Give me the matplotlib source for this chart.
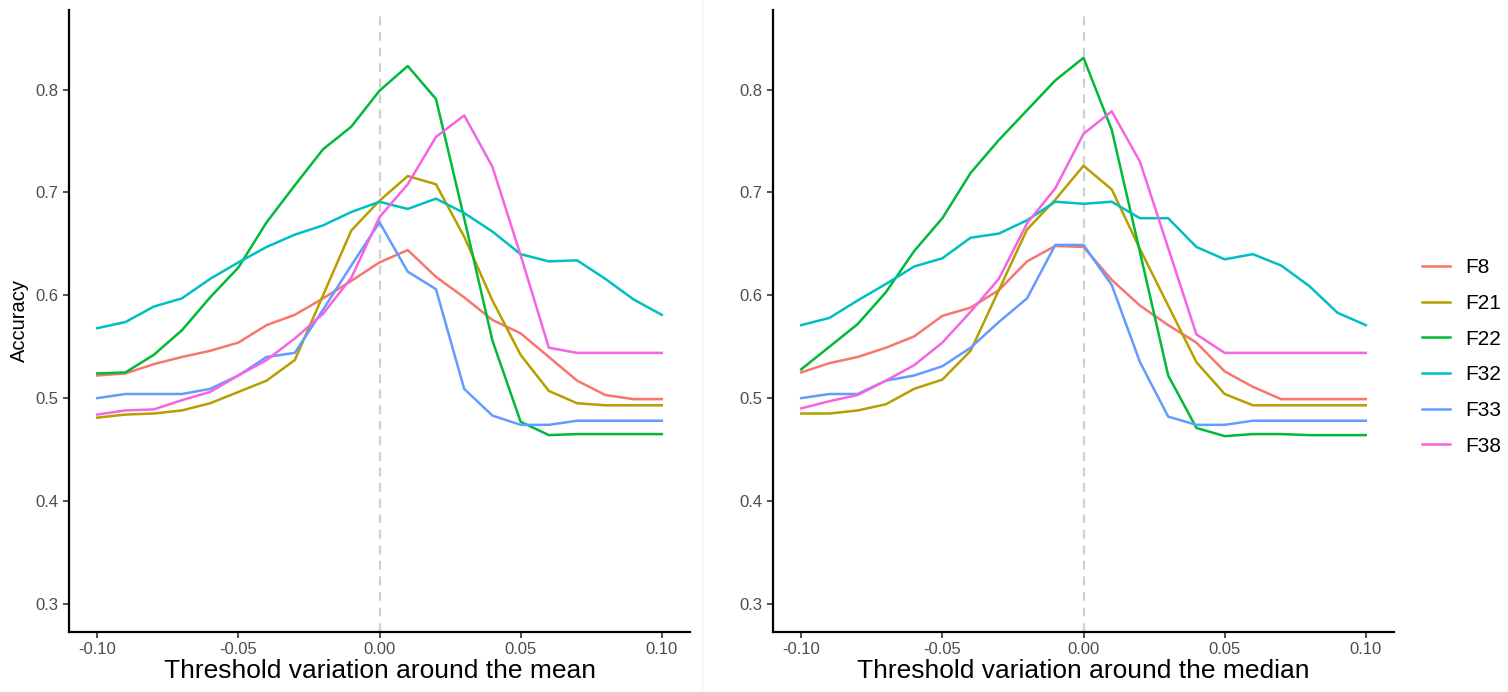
import numpy as np
import matplotlib.pyplot as plt
from matplotlib.lines import Line2D

plt.rcParams['font.family'] = ['Liberation Sans', 'DejaVu Sans']

# 阈值变化
x = np.round(np.arange(-0.10, 0.1001, 0.01), 2)

names = ["F8", "F21", "F22", "F32", "F33", "F38"]
colors = ["#F8766D", "#B79F00", "#00BA38", "#00BFC4", "#619CFF", "#F564E3"]

# 均值附近
mean_F8 = [0.522, 0.524, 0.533, 0.540, 0.546, 0.554, 0.571, 0.581, 0.597, 0.614, 0.632,
           0.644, 0.618, 0.598, 0.576, 0.563, 0.540, 0.517, 0.503, 0.499, 0.499]
mean_F21 = [0.481, 0.484, 0.485, 0.488, 0.495, 0.506, 0.517, 0.537, 0.600, 0.663, 0.692,
            0.716, 0.708, 0.657, 0.595, 0.542, 0.507, 0.495, 0.493, 0.493, 0.493]
mean_F22 = [0.524, 0.525, 0.542, 0.566, 0.598, 0.627, 0.671, 0.707, 0.742, 0.764, 0.799,
            0.823, 0.791, 0.675, 0.556, 0.477, 0.464, 0.465, 0.465, 0.465, 0.465]
mean_F32 = [0.568, 0.574, 0.589, 0.597, 0.616, 0.632, 0.647, 0.659, 0.668, 0.681, 0.691,
            0.684, 0.694, 0.680, 0.662, 0.640, 0.633, 0.634, 0.616, 0.596, 0.581]
mean_F33 = [0.500, 0.504, 0.504, 0.504, 0.509, 0.522, 0.540, 0.544, 0.586, 0.629, 0.671,
            0.623, 0.606, 0.509, 0.483, 0.474, 0.474, 0.478, 0.478, 0.478, 0.478]
mean_F38 = [0.484, 0.488, 0.489, 0.498, 0.506, 0.522, 0.537, 0.558, 0.582, 0.617, 0.676,
            0.708, 0.754, 0.775, 0.725, 0.639, 0.549, 0.544, 0.544, 0.544, 0.544]

# 中位数附近
median_F8 = [0.525, 0.534, 0.540, 0.549, 0.560, 0.580, 0.588, 0.605, 0.633, 0.648, 0.647,
             0.615, 0.590, 0.571, 0.554, 0.526, 0.511, 0.499, 0.499, 0.499, 0.499]
median_F21 = [0.485, 0.485, 0.488, 0.494, 0.509, 0.518, 0.546, 0.605, 0.664, 0.693, 0.726,
              0.703, 0.645, 0.590, 0.535, 0.504, 0.493, 0.493, 0.493, 0.493, 0.493]
median_F22 = [0.528, 0.550, 0.572, 0.603, 0.643, 0.675, 0.719, 0.751, 0.780, 0.809, 0.831,
              0.761, 0.642, 0.522, 0.471, 0.463, 0.465, 0.465, 0.464, 0.464, 0.464]
median_F32 = [0.571, 0.578, 0.595, 0.611, 0.628, 0.636, 0.656, 0.660, 0.673, 0.691, 0.689,
              0.691, 0.675, 0.675, 0.647, 0.635, 0.640, 0.629, 0.609, 0.583, 0.571]
median_F33 = [0.500, 0.504, 0.504, 0.517, 0.522, 0.531, 0.549, 0.574, 0.597, 0.649, 0.649,
              0.610, 0.535, 0.482, 0.474, 0.474, 0.478, 0.478, 0.478, 0.478, 0.478]
median_F38 = [0.490, 0.497, 0.503, 0.517, 0.532, 0.554, 0.584, 0.616, 0.670, 0.704, 0.757,
              0.779, 0.730, 0.646, 0.562, 0.544, 0.544, 0.544, 0.544, 0.544, 0.544]

mean_data = [mean_F8, mean_F21, mean_F22, mean_F32, mean_F33, mean_F38]
median_data = [median_F8, median_F21, median_F22, median_F32, median_F33, median_F38]

W, H = 1508, 692
fig = plt.figure(figsize=(W / 100, H / 100), dpi=100)

ax1 = fig.add_axes([69 / W, 1 - 632 / H, 621 / W, 622 / H])
ax2 = fig.add_axes([773 / W, 1 - 632 / H, 621 / W, 622 / H])


def draw_panel(ax, data, xlabel, ylabel=None):
    """ 画一个面板 """
    ax.axvline(0, color="#D0D0D0", linestyle=(0, (4, 3)), linewidth=1.6, zorder=1)
    for vals, c in zip(data, colors):
        ax.plot(x, vals, color=c, linewidth=1.8, zorder=2)
    ax.set_xlim(-0.11, 0.11)
    ax.set_ylim(0.2725, 0.8775)
    ax.set_xticks([-0.10, -0.05, 0.00, 0.05, 0.10])
    ax.set_xticklabels(["-0.10", "-0.05", "0.00", "0.05", "0.10"])
    ax.set_yticks([0.3, 0.4, 0.5, 0.6, 0.7, 0.8])
    ax.set_yticklabels(["0.3", "0.4", "0.5", "0.6", "0.7", "0.8"])
    for s in ["top", "right"]:
        ax.spines[s].set_visible(False)
    for s in ["left", "bottom"]:
        ax.spines[s].set_linewidth(1.6)
        ax.spines[s].set_color("black")
    ax.tick_params(axis="both", direction="out", length=4.5, width=1.2,
                   colors="#333333", labelsize=12, labelcolor="#4D4D4D", pad=3)
    ax.set_xlabel(xlabel, fontsize=19, color="black", labelpad=1)
    if ylabel:
        ax.set_ylabel(ylabel, fontsize=14.5, color="black", labelpad=5)


draw_panel(ax1, mean_data, "Threshold variation around the mean", "Accuracy")
draw_panel(ax2, median_data, "Threshold variation around the median")

# 图例
handles = [Line2D([0], [0], color=c, linewidth=1.8) for c in colors]
fig.legend(handles, names, loc="center left", bbox_to_anchor=(1422 / W, 1 - 357 / H),
           frameon=False, fontsize=15, handlelength=1.35, labelspacing=0.8,
           handletextpad=0.72, borderpad=0, borderaxespad=0)

# 左图背景边缘
fig.add_artist(Line2D([702 / W, 702 / W], [0, 1], color="#F2F2F2", linewidth=1))

fig.savefig("out.png", dpi=100)
